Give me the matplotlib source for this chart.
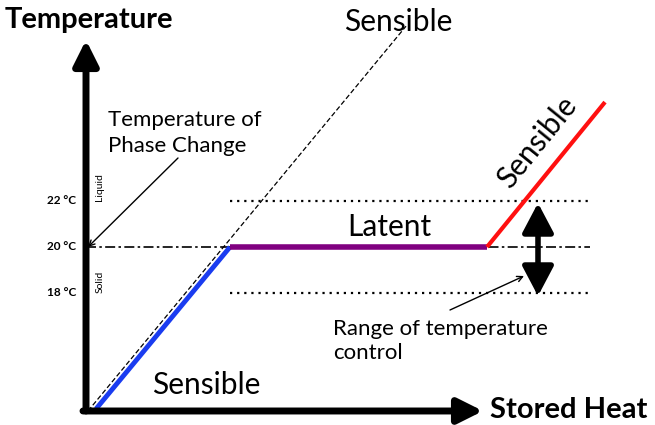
import matplotlib.pyplot as plt

plt.rcParams['font.family'] = ['Lato', 'DejaVu Sans']

# schematic data: stored heat (arbitrary units) vs temperature (°C)
heat_solid = [1.0, 14.4]
temp_solid = [12.96, 20.0]
heat_latent = [14.4, 40.1]
temp_latent = [20.0, 20.0]
heat_liquid = [40.1, 51.9]
temp_liquid = [20.0, 26.3]
heat_pure = [0.2, 32.0]
temp_pure = [12.87, 29.6]

phase_temp = 20.0
control_low = 18.0
control_high = 22.0
tick_temps = [22, 20, 18]
tick_labels = ['22 °C', '20 °C', '18 °C']

origin_heat = 0.0
origin_temp = 12.87


def px(x):
    # figure pixel -> heat units
    return (x - 86) / 10.0


def py(y):
    # figure pixel -> temperature
    return 20.0 - (y - 247) / 23.0


fig = plt.figure(figsize=(6.55, 4.25), dpi=100)
ax = fig.add_axes([0, 0, 1, 1])
ax.set_xlim(px(0), px(655))
ax.set_ylim(py(425), py(0))
ax.axis('off')

# reference lines
ax.plot([origin_heat, px(590)], [phase_temp, phase_temp], color='black', lw=1.2,
        dashes=(6, 2, 1.5, 2))
ax.plot([heat_latent[0], px(590)], [control_high, control_high], color='black', lw=1.6,
        linestyle=(0, (1, 2.2)))
ax.plot([heat_latent[0], px(590)], [control_low, control_low], color='black', lw=1.6,
        linestyle=(0, (1, 2.2)))
ax.plot(heat_pure, temp_pure, color='black', lw=0.9, linestyle=(0, (4, 2)))

# storage curve
ax.plot(heat_solid, temp_solid, color='#1a3cf0', lw=3.5, solid_capstyle='butt')
ax.plot(heat_latent, temp_latent, color='#800080', lw=4, solid_capstyle='butt')
ax.plot(heat_liquid, temp_liquid, color='#ff1010', lw=3, solid_capstyle='butt')

# axes arrows
ax.annotate('', xy=(origin_heat, py(40)), xytext=(origin_heat, origin_temp),
            arrowprops=dict(arrowstyle='-|>,head_length=0.6,head_width=0.3',
                            lw=5, color='black', mutation_scale=25,
                            shrinkA=0, shrinkB=0))
ax.annotate('', xy=(px(483), origin_temp), xytext=(px(83), origin_temp),
            arrowprops=dict(arrowstyle='-|>,head_length=0.6,head_width=0.3',
                            lw=5, color='black', mutation_scale=25,
                            shrinkA=0, shrinkB=0))

# range of control double arrow
ax.annotate('', xy=(px(538), py(203)), xytext=(px(538), py(296)),
            arrowprops=dict(arrowstyle='<|-|>,head_length=0.72,head_width=0.38',
                            lw=4, color='black', mutation_scale=25,
                            shrinkA=0, shrinkB=0))

# thin pointer arrows
ax.annotate('', xy=(px(88), phase_temp), xytext=(px(178), py(158)),
            arrowprops=dict(arrowstyle='->', lw=1.0, color='black', shrinkA=0, shrinkB=0))
ax.annotate('', xy=(px(524), py(276)), xytext=(px(450), py(310)),
            arrowprops=dict(arrowstyle='->', lw=1.0, color='black', shrinkA=0, shrinkB=0))

# temperature ticks
for t, lab in zip(tick_temps, tick_labels):
    ax.text(px(76), t, lab, ha='right', va='center', fontsize=8.5, fontweight='bold')
ax.text(px(100), py(187), 'Liquid', rotation=90, ha='center', va='center', fontsize=7.5)
ax.text(px(100), py(282), 'Solid', rotation=90, ha='center', va='center', fontsize=7.5)

# labels
ax.text(px(5), py(20), 'Temperature', ha='left', va='center', fontsize=21, fontweight='bold')
ax.text(px(490), py(410), 'Stored Heat', ha='left', va='center', fontsize=21, fontweight='bold')
ax.text(px(398), py(22), 'Sensible', ha='center', va='center', fontsize=21.5)
ax.text(px(206), py(385), 'Sensible', ha='center', va='center', fontsize=21.5)
ax.text(px(389), py(227), 'Latent', ha='center', va='center', fontsize=21.5)
ax.text(px(537), py(142), 'Sensible', ha='center', va='center', fontsize=21.5, rotation=51)
ax.text(px(108), py(133), 'Temperature of\nPhase Change', ha='left', va='center',
        fontsize=16, linespacing=1.35)
ax.text(px(333), py(341), 'Range of temperature\ncontrol', ha='left', va='center',
        fontsize=16, linespacing=1.28)

fig.savefig('out.png', dpi=100)
